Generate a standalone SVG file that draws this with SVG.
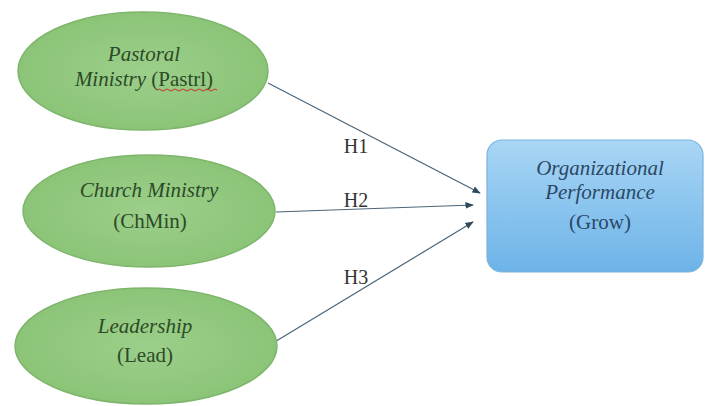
<svg xmlns="http://www.w3.org/2000/svg" width="705" height="406" viewBox="0 0 705 406">
<defs>
<linearGradient id="blue" x1="0" y1="0" x2="0" y2="1">
<stop offset="0" stop-color="#a9d6f5"/>
<stop offset="1" stop-color="#6db3e8"/>
</linearGradient>
<radialGradient id="green" cx="0.5" cy="0.5" r="0.6">
<stop offset="0" stop-color="#9ccf8a"/>
<stop offset="1" stop-color="#88c274"/>
</radialGradient>
<marker id="arr" viewBox="0 0 10 10" refX="9" refY="5" markerWidth="7" markerHeight="7" orient="auto">
<path d="M0,1 L10,5 L0,9 z" fill="#2f4a5c"/>
</marker>
</defs>
<style>
.ell{fill:url(#green);stroke:#7db66b;stroke-width:1.5}
.t{font-family:"Liberation Serif","Times New Roman",serif;font-size:21px;fill:#2c4a28;text-anchor:middle}
.i{font-style:italic}
.bt{font-family:"Liberation Serif","Times New Roman",serif;font-size:21px;fill:#2a4866;text-anchor:middle}
.c{stroke:#4a6478;stroke-width:1.2;fill:none;marker-end:url(#arr)}
.h{font-family:"Liberation Serif","Times New Roman",serif;font-size:20px;fill:#333;text-anchor:middle}
</style>
<rect width="705" height="406" fill="#ffffff"/>
<g id="connectors">
<line class="c" x1="268" y1="83" x2="480" y2="193"/>
<line class="c" x1="276" y1="212" x2="473" y2="205"/>
<line class="c" x1="273" y1="343" x2="473" y2="222"/>
<text class="h" x="356" y="153">H1</text>
<text class="h" x="356" y="207">H2</text>
<text class="h" x="356" y="284">H3</text>
</g>
<g id="pastrl">
<ellipse class="ell" cx="143" cy="71" rx="125" ry="59"/>
<text class="t i" x="144" y="61">Pastoral</text>
<text class="t" x="144" y="86"><tspan class="i">Ministry</tspan> (Pastrl)</text>
<path d="M157,90 q2,-2 4,0 t4,0 t4,0 t4,0 t4,0 t4,0 t4,0 t4,0 t4,0 t4,0 t4,0 t4,0 t4,0 t4,0 t4,0" stroke="#d03030" stroke-width="1" fill="none"/>
</g>
<g id="chmin">
<ellipse class="ell" cx="149" cy="211" rx="126" ry="56"/>
<text class="t i" x="149" y="197">Church Ministry</text>
<text class="t" x="150" y="228">(ChMin)</text>
</g>
<g id="lead">
<ellipse class="ell" cx="146" cy="346" rx="131" ry="58"/>
<text class="t i" x="145" y="333">Leadership</text>
<text class="t" x="145" y="362">(Lead)</text>
</g>
<g id="grow">
<rect x="487" y="140" width="216" height="132" rx="15" fill="url(#blue)" stroke="#7ab3dd" stroke-width="1.2"/>
<text class="bt i" x="600" y="175">Organizational</text>
<text class="bt i" x="600" y="199">Performance</text>
<text class="bt" x="600" y="229">(Grow)</text>
</g>
</svg>
